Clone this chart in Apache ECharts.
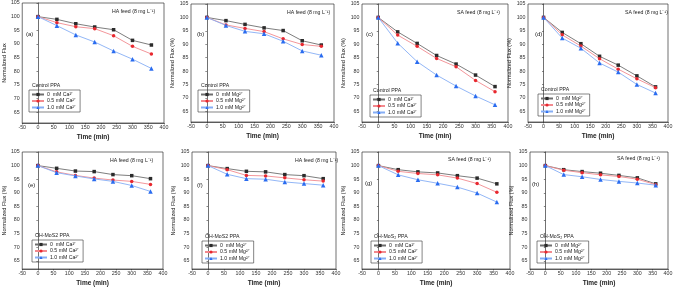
<!DOCTYPE html>
<html lang="en">
<head>
    <meta charset="utf-8">
    <title>Normalized flux</title>
    <script src="https://cdn.jsdelivr.net/npm/echarts@6/dist/echarts.min.js"></script>
    <style>
        html, body { margin: 0; padding: 0; background: #fff; }
    </style>
</head>
<body>
    <div id="main" style="width:676px;height:289px;"></div>

    <script type="text/javascript">
        // sampling times (min)
        var time = [0, 60, 120, 180, 240, 300, 360];
        var yTicks = [65, 70, 75, 80, 85, 90, 95, 100, 105];

        // (a) HA feed, Control PPA, Ca
        var fluxA0  = [100, 99.0, 97.4, 96.2, 95.2, 91.3, 89.6];
        var fluxA05 = [100, 97.8, 96.3, 95.6, 93.0, 89.1, 86.3];
        var fluxA10 = [100, 96.7, 93.3, 90.7, 87.4, 84.4, 81.0];
        // (b) HA feed, Control PPA, Mg
        var fluxB0  = [100, 98.8, 97.4, 96.1, 95.1, 91.3, 89.7];
        var fluxB05 = [100, 97.2, 95.9, 94.7, 92.0, 89.9, 89.2];
        var fluxB10 = [100, 97.0, 94.8, 93.9, 91.1, 87.5, 85.9];
        // (c) SA feed, Control PPA, Ca
        var fluxC0  = [100, 94.6, 90.3, 85.8, 82.6, 78.5, 74.2];
        var fluxC05 = [100, 93.4, 89.2, 84.7, 81.6, 76.5, 72.3];
        var fluxC10 = [100, 90.4, 83.5, 78.5, 74.4, 70.7, 67.4];
        // (d) SA feed, Control PPA, Mg
        var fluxD0  = [100, 94.4, 90.2, 85.5, 82.2, 78.2, 74.1];
        var fluxD05 = [100, 93.5, 89.3, 84.6, 80.7, 77.1, 73.8];
        var fluxD10 = [100, 92.3, 88.5, 83.0, 79.6, 75.0, 71.8];
        // (e) HA feed, OH-MoS2 PPA, Ca
        var fluxE0  = [100, 99.0, 98.0, 97.8, 96.7, 96.3, 95.2];
        var fluxE05 = [100, 97.7, 96.4, 95.4, 94.7, 94.2, 93.1];
        var fluxE10 = [100, 97.4, 96.2, 95.1, 94.2, 92.7, 90.5];
        // (f) HA feed, OH-MoS2 PPA, Mg
        var fluxF0  = [100, 98.9, 97.9, 97.7, 96.7, 96.3, 95.2];
        var fluxF05 = [100, 98.5, 96.4, 96.2, 95.5, 94.8, 94.3];
        var fluxF10 = [100, 96.8, 95.2, 95.0, 94.0, 93.4, 92.8];
        // (g) SA feed, OH-MoS2 PPA, Ca
        var fluxG0  = [100, 98.5, 97.7, 97.3, 96.3, 95.4, 93.3];
        var fluxG05 = [100, 97.9, 97.1, 96.6, 95.4, 93.4, 90.2];
        var fluxG10 = [100, 96.6, 94.8, 93.5, 92.1, 89.9, 86.6];
        // (h) SA feed, OH-MoS2 PPA, Mg
        var fluxH0  = [100, 98.5, 97.8, 97.2, 96.4, 95.5, 93.3];
        var fluxH05 = [100, 98.3, 97.4, 96.6, 96.0, 95.0, 93.0];
        var fluxH10 = [100, 96.7, 95.9, 94.9, 94.2, 93.6, 92.8];

        var FONT = '"Liberation Sans", Arial, sans-serif';

        // layout of each small panel
        var panels = [
            { tag: '(a)', feed: 'HA', ion: 'Ca', memb: 'Control PPA', yname: 'Normalized Flux', ymin: 61,
              grid: [20, 3, 144, 120], feedPos: [112, 9], tagPos: [26, 31], legPos: [29, 90], data: [fluxA0, fluxA05, fluxA10] },
            { tag: '(b)', feed: 'HA', ion: 'Mg', memb: 'Control PPA', yname: 'Normalized Flux (%)', ymin: 61,
              grid: [191, 4, 143, 118], feedPos: [287, 10], tagPos: [197, 31], legPos: [198, 90], data: [fluxB0, fluxB05, fluxB10] },
            { tag: '(c)', feed: 'SA', ion: 'Ca', memb: 'Control PPA', yname: 'Normalized Flux (%)', ymin: 61,
              grid: [362, 4, 146, 118], feedPos: [457, 10], tagPos: [366, 31], legPos: [370, 95], data: [fluxC0, fluxC05, fluxC10] },
            { tag: '(d)', feed: 'SA', ion: 'Mg', memb: 'Control PPA', yname: 'Normalized Flux (%)', ymin: 61,
              grid: [528, 4, 140, 118], feedPos: [625, 10], tagPos: [535, 31], legPos: [538, 94], data: [fluxD0, fluxD05, fluxD10] },
            { tag: '(e)', feed: 'HA', ion: 'Ca', memb: 'OH-MoS2 PPA', yname: 'Normalized Flux (%)', ymin: 62,
              grid: [20, 152, 143, 117], feedPos: [110, 158], tagPos: [28, 182], legPos: [32, 240], data: [fluxE0, fluxE05, fluxE10] },
            { tag: '(f)', feed: 'HA', ion: 'Mg', memb: 'OH-MoS2 PPA', yname: 'Normalized Flux (%)', ymin: 62,
              grid: [192, 152, 144, 117], feedPos: [295, 158], tagPos: [197, 182], legPos: [202, 241], data: [fluxF0, fluxF05, fluxF10] },
            { tag: '(g)', feed: 'SA', ion: 'Ca', memb: 'OH-MoS\u2082 PPA', yname: 'Normalized Flux (%)', ymin: 62,
              grid: [362, 152, 148, 117], feedPos: [448, 157], tagPos: [365, 180], legPos: [371, 241], data: [fluxG0, fluxG05, fluxG10] },
            { tag: '(h)', feed: 'SA', ion: 'Mg', memb: 'OH-MoS\u2082 PPA', yname: 'Normalized Flux (%)', ymin: 62,
              grid: [530, 152, 138, 117], feedPos: [617, 156], tagPos: [532, 181], legPos: [537, 241], data: [fluxH0, fluxH05, fluxH10] }
        ];

        var levels = ['0  mM ', '0.5 mM ', '1.0 mM '];
        var markColors = ['#2b2b2b', '#e8282f', '#2a6cf0'];
        var lineColors = ['#6e6e6e', '#f28a8f', '#86aef5'];
        var symbols = ['rect', 'circle', 'triangle'];

        var grids = [], xAxes = [], yAxes = [], series = [], legends = [], graphics = [];

        panels.forEach(function (p, i) {
            grids.push({
                left: p.grid[0], top: p.grid[1], width: p.grid[2], height: p.grid[3],
                show: true, borderColor: '#333', borderWidth: 0.7, backgroundColor: 'transparent'
            });
            xAxes.push({
                gridIndex: i, type: 'value', min: -50, max: 400, interval: 50,
                name: 'Time (min)', nameLocation: 'middle', nameGap: 10.5,
                nameTextStyle: { fontSize: 6.5, fontWeight: 'bold', fontFamily: FONT, color: '#222' },
                axisLine: { lineStyle: { color: '#333', width: 0.7 } },
                axisTick: { inside: false, length: 1.5, lineStyle: { color: '#333', width: 0.6 } },
                axisLabel: { fontSize: 5.3, margin: 2.5, color: '#333', fontFamily: FONT, showMinLabel: true, showMaxLabel: true },
                splitLine: { show: false }
            });
            yAxes.push({
                gridIndex: i, type: 'value', min: p.ymin, max: 105,
                name: p.yname, nameLocation: 'middle', nameGap: 13,
                nameTextStyle: { fontSize: 5.5, fontFamily: FONT, color: '#222' },
                axisLine: { show: true, lineStyle: { color: '#333', width: 0.7 } },
                axisTick: { show: true, length: 1.5, customValues: yTicks, lineStyle: { color: '#333', width: 0.6 } },
                axisLabel: { fontSize: 5.3, margin: 2.5, color: '#333', fontFamily: FONT, customValues: yTicks },
                splitLine: { show: false }
            });
            var names = [];
            p.data.forEach(function (vals, k) {
                var nm = i + '|' + levels[k] + p.ion + '\u00b2\u207a';
                names.push(nm);
                series.push({
                    name: nm, type: 'line', xAxisIndex: i, yAxisIndex: i,
                    data: time.map(function (t, j) { return [t, vals[j]]; }),
                    symbol: symbols[k], symbolSize: k === 2 ? 4.5 : 3.5,
                    itemStyle: { color: markColors[k] },
                    lineStyle: { color: lineColors[k], width: 0.9 },
                    z: 3 + k,
                    animation: false
                });
            });
            legends.push({
                data: names, orient: 'vertical', left: p.legPos[0], top: p.legPos[1],
                itemWidth: 12, itemHeight: 4, itemGap: 1.5, padding: [2, 4, 2, 2],
                borderColor: '#333', borderWidth: 0.6,
                textStyle: { fontSize: 5.2, fontFamily: FONT, color: '#222', padding: [0, 0, 0, -2] },
                formatter: function (n) { return n.split('|')[1]; },
                selectedMode: false
            });
            graphics.push({
                type: 'text', left: p.feedPos[0], top: p.feedPos[1],
                style: { text: p.feed + ' feed (8 mg L\u207b\u00b9)', fontSize: 5.2, fontFamily: FONT, fill: '#222' }
            });
            graphics.push({
                type: 'text', left: p.tagPos[0], top: p.tagPos[1],
                style: { text: p.tag, fontSize: 6, fontFamily: FONT, fill: '#222' }
            });
            graphics.push({
                type: 'text', left: p.legPos[0] + 3, top: p.legPos[1] - 7,
                style: { text: p.memb, fontSize: 5.2, fontFamily: FONT, fill: '#222' }
            });
        });

        var myChart = echarts.init(document.getElementById('main'));
        myChart.setOption({
            animation: false,
            grid: grids,
            xAxis: xAxes,
            yAxis: yAxes,
            legend: legends,
            series: series,
            graphic: graphics
        });
    </script>
</body>
</html>
